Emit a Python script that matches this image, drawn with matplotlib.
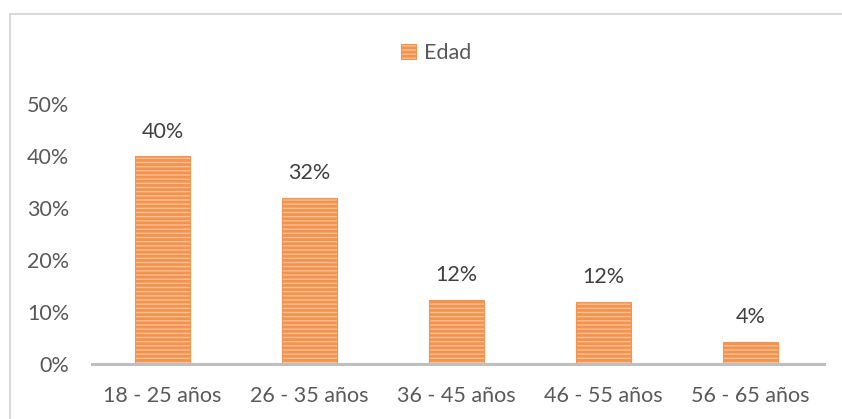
import matplotlib.pyplot as plt
from matplotlib.patches import Rectangle

categories = ['18 - 25 años', '26 - 35 años', '36 - 45 años', '46 - 55 años', '56 - 65 años']
values = [0.40, 0.32, 0.124, 0.12, 0.043]
labels = ['40%', '32%', '12%', '12%', '4%']
yticks = [0, 0.1, 0.2, 0.3, 0.4, 0.5]

plt.rcParams['font.family'] = ['Lato', 'DejaVu Sans']
plt.rcParams['hatch.color'] = '#ED7D31'
plt.rcParams['hatch.linewidth'] = 2.0

fig = plt.figure(figsize=(8.42, 4.19), dpi=100)
ax = fig.add_axes([92/842, 1 - 364/419, (824 - 92)/842, (364 - 104)/419])

# рамка вокруг диаграммы
fig.patches.append(Rectangle((10/842, -0.1), 1.2, 1 - 14/419 + 0.1,
                             transform=fig.transFigure, fill=False,
                             edgecolor='#D9D9D9', linewidth=1.5))

x = range(len(categories))
bars = ax.bar(x, values, width=0.38, color='#F9BF92', edgecolor='#F29450',
              linewidth=0.8, hatch='----', label='Edad')

for xi, v, lab in zip(x, values, labels):
    ax.text(xi, v + 0.047, lab, ha='center', va='center', fontsize=15.5, color='#404040')

ax.set_xlim(-0.48, 4.5)
ax.set_ylim(0, 0.5)
ax.set_yticks(yticks)
ax.set_yticklabels([f'{int(t*100)}%' for t in yticks])
ax.set_xticks(list(x))
ax.set_xticklabels(categories)
ax.tick_params(length=0, labelsize=15.5, labelcolor='#595959')
ax.tick_params(axis='x', pad=16)
ax.tick_params(axis='y', pad=16.5)

for s in ['top', 'right', 'left']:
    ax.spines[s].set_visible(False)
ax.spines['bottom'].set_color('#BFBFBF')
ax.spines['bottom'].set_linewidth(2.2)

fig.legend(loc='center', bbox_to_anchor=(436/842, 1 - 53/419), frameon=False,
           fontsize=15.5, labelcolor='#595959', handlelength=0.7, handleheight=0.7,
           handletextpad=0.35)

fig.savefig('out.png', dpi=100)
